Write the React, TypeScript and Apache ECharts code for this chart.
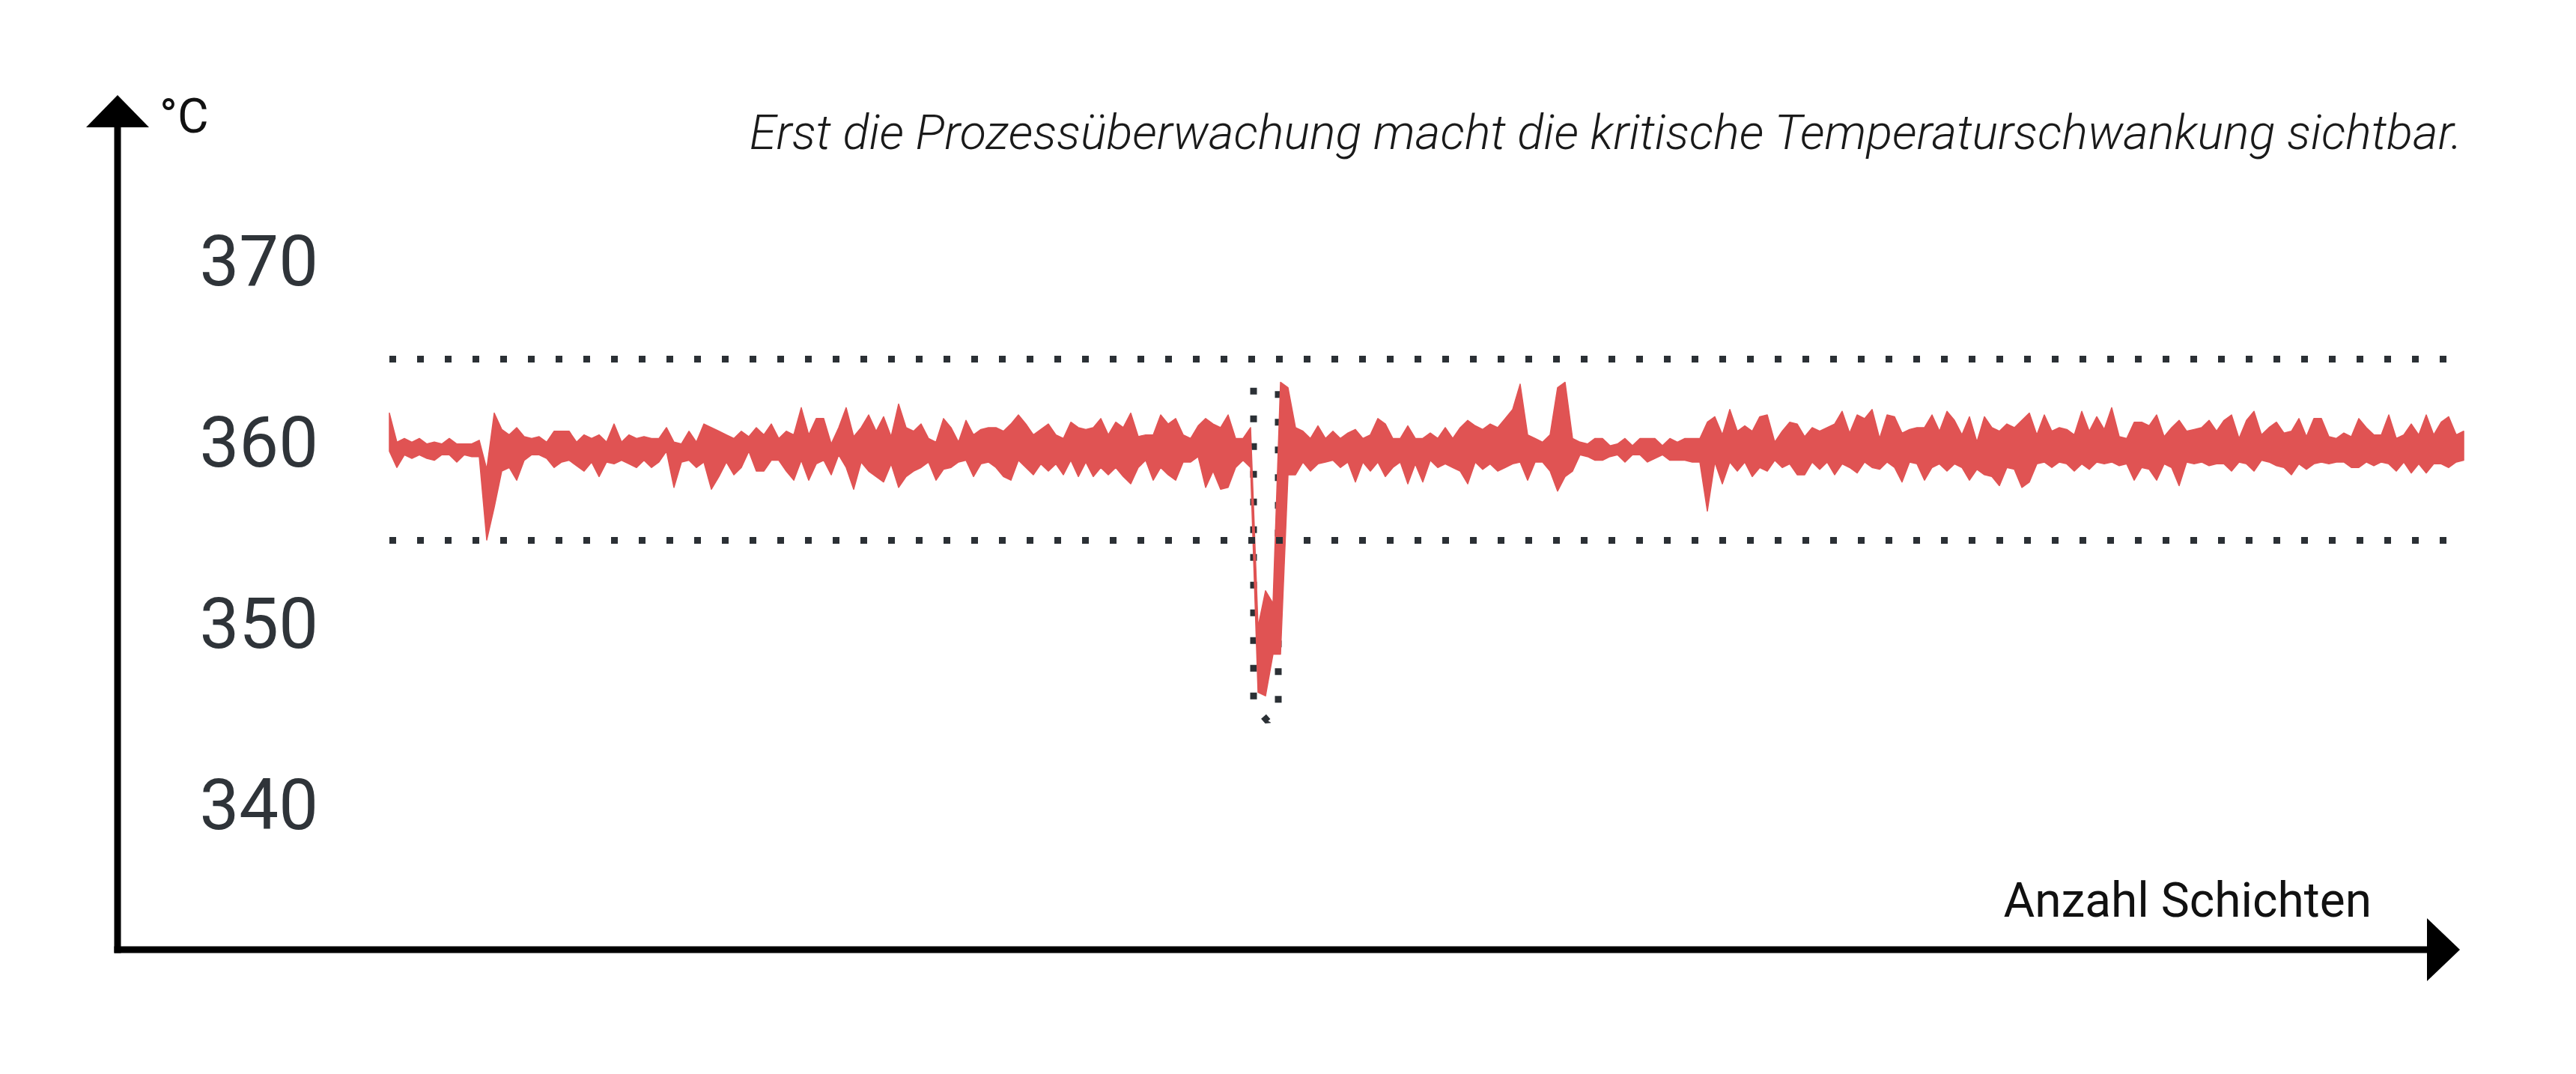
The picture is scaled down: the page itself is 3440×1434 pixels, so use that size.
import React, { useEffect, useRef } from "react";
import * as echarts from "echarts";

// Temperature band per layer (upper / lower envelope of the signal), °C
const upper: number[] = [
  362.0, 360.4, 360.6, 360.4, 360.6, 360.3, 360.4, 360.3, 360.6, 360.3,
  360.3, 360.3, 360.5, 358.9, 362.0, 361.1, 360.8, 361.2, 360.7, 360.6,
  360.7, 360.4, 361.0, 361.0, 361.0, 360.4, 360.8, 360.6, 360.8, 360.4,
  361.4, 360.4, 360.8, 360.6, 360.7, 360.6, 360.6, 361.2, 360.4, 360.3,
  361.0, 360.4, 361.4, 361.2, 361.0, 360.8, 360.6, 361.0, 360.7, 361.2,
  360.8, 361.4, 360.6, 361.0, 360.8, 362.3, 360.8, 361.7, 361.7, 360.3,
  361.2, 362.3, 360.7, 361.2, 361.9, 361.0, 361.8, 360.7, 362.5, 361.2,
  361.0, 361.4, 360.6, 360.4, 361.7, 361.2, 360.4, 361.6, 360.8, 361.1,
  361.2, 361.2, 361.0, 361.4, 361.9, 361.4, 360.8, 361.1, 361.4, 360.8,
  360.6, 361.5, 361.2, 361.1, 361.2, 361.7, 360.8, 361.5, 361.2, 362.0,
  360.7, 360.8, 360.8, 361.9, 361.4, 361.7, 360.8, 360.6, 361.3, 361.7,
  361.4, 361.2, 361.9, 360.6, 360.6, 361.2, 350.2, 352.2, 351.5, 363.7,
  363.4, 361.2, 361.0, 360.6, 361.3, 360.6, 361.0, 360.6, 360.9, 361.1,
  360.6, 360.8, 361.7, 361.4, 360.6, 360.6, 361.3, 360.6, 360.6, 360.9,
  360.6, 361.2, 360.6, 361.2, 361.6, 361.3, 361.1, 361.4, 361.2, 361.7,
  362.2, 363.6, 360.8, 360.6, 360.4, 360.8, 363.4, 363.7, 360.6, 360.4,
  360.3, 360.6, 360.6, 360.2, 360.3, 360.6, 360.2, 360.6, 360.6, 360.6,
  360.2, 360.6, 360.4, 360.6, 360.6, 360.6, 361.5, 361.8, 360.8, 362.2,
  361.0, 361.3, 361.0, 361.8, 361.9, 360.4, 361.0, 361.5, 361.4, 360.7,
  361.2, 361.0, 361.2, 361.4, 362.1, 360.9, 361.9, 361.7, 362.2, 360.6,
  361.9, 361.8, 360.9, 361.1, 361.2, 361.2, 361.9, 361.0, 362.1, 361.6,
  360.8, 361.8, 360.4, 361.8, 361.2, 361.0, 361.4, 361.2, 361.6, 362.0,
  360.8, 361.9, 361.0, 361.2, 361.1, 360.8, 362.1, 361.0, 361.8, 361.1,
  362.3, 360.7, 360.6, 361.5, 361.5, 361.3, 361.9, 360.7, 361.2, 361.6,
  361.0, 361.1, 361.2, 361.6, 361.0, 361.6, 361.9, 360.6, 361.6, 362.1,
  360.8, 361.2, 361.5, 360.9, 361.0, 361.7, 360.7, 361.7, 361.7, 360.7,
  360.6, 360.9, 360.7, 361.7, 361.2, 360.8, 360.8, 361.9, 360.6, 360.8,
  361.4, 360.8, 361.9, 360.8, 361.5, 361.8, 360.8, 361.0,
];

const lower: number[] = [
  359.9, 359.0, 359.7, 359.5, 359.7, 359.5, 359.4, 359.7, 359.7, 359.3,
  359.7, 359.6, 359.6, 355.0, 356.8, 358.8, 359.0, 358.3, 359.4, 359.7,
  359.7, 359.5, 359.0, 359.3, 359.4, 359.1, 358.8, 359.3, 358.5, 359.3,
  359.2, 359.4, 359.2, 359.0, 359.4, 359.0, 359.3, 359.9, 357.9, 359.3,
  359.4, 359.0, 359.3, 357.8, 358.5, 359.3, 358.6, 359.0, 359.9, 358.8,
  358.8, 359.4, 359.4, 358.8, 358.3, 359.4, 358.3, 359.2, 359.4, 358.6,
  359.7, 359.0, 357.8, 359.3, 358.8, 358.5, 358.2, 359.2, 357.9, 358.5,
  358.8, 359.0, 359.3, 358.3, 358.9, 359.0, 359.3, 359.4, 358.5, 359.2,
  359.3, 359.0, 358.5, 358.3, 359.4, 359.0, 358.6, 359.2, 358.8, 359.2,
  358.6, 359.4, 358.5, 359.3, 358.5, 359.0, 358.6, 359.0, 358.5, 358.1,
  359.0, 359.4, 358.3, 359.0, 358.6, 358.3, 359.3, 359.3, 359.6, 357.9,
  358.8, 357.8, 357.9, 359.0, 359.4, 359.0, 346.6, 346.4, 348.7, 348.7,
  358.6, 358.6, 359.3, 358.8, 359.2, 359.3, 359.4, 359.0, 359.3, 358.2,
  359.3, 358.8, 359.3, 358.5, 359.0, 359.3, 358.1, 359.2, 358.2, 359.4,
  359.0, 359.2, 359.0, 358.8, 358.1, 359.3, 358.9, 359.2, 358.8, 359.0,
  359.2, 359.3, 358.3, 359.3, 359.3, 358.8, 357.7, 358.5, 358.8, 359.7,
  359.6, 359.4, 359.4, 359.6, 359.7, 359.3, 359.7, 359.7, 359.3, 359.5,
  359.7, 359.4, 359.4, 359.4, 359.3, 359.3, 356.6, 359.3, 358.1, 359.3,
  358.8, 359.3, 358.5, 359.0, 358.8, 359.4, 359.0, 359.2, 358.6, 358.6,
  359.3, 358.9, 359.3, 358.6, 359.2, 359.0, 358.7, 359.3, 359.0, 358.9,
  359.3, 359.0, 358.2, 359.3, 359.2, 358.3, 359.0, 359.2, 358.8, 359.2,
  359.0, 358.3, 358.9, 358.6, 358.5, 358.0, 359.0, 358.9, 357.9, 358.2,
  359.2, 359.3, 359.0, 359.3, 359.2, 358.8, 359.2, 358.9, 359.3, 359.2,
  359.3, 359.1, 359.2, 358.3, 359.0, 358.9, 358.3, 359.2, 359.0, 358.0,
  359.3, 359.2, 359.3, 359.1, 359.2, 359.2, 358.8, 359.3, 359.2, 358.8,
  359.4, 359.3, 359.1, 359.0, 358.6, 359.2, 358.9, 359.2, 359.3, 359.2,
  359.3, 359.3, 359.0, 359.0, 359.3, 359.1, 359.3, 359.2, 358.8, 359.3,
  358.7, 359.2, 358.7, 359.2, 359.2, 359.0, 359.3, 359.4,
];

// Tolerance limits (°C)
const limits: number[] = [365, 355];

// Dotted highlight around the temperature drop (layer index, °C)
const boxX: number[] = [115.4, 115.4, 117.3, 118.7, 118.7];
const boxY: number[] = [363.4, 345.9, 345.0, 346.0, 363.7];

// Y axis
const yTicks: number[] = [340, 350, 360, 370];
const yMin = 330;
const yMax = 380;

const title = "Erst die Prozessüberwachung macht die kritische Temperaturschwankung sichtbar.";
const yUnit = "°C";
const xName = "Anzahl Schichten";

const RED = "#e05353";
const DOT = "#2b3035";

export default function App() {
  const ref = useRef<HTMLDivElement>(null);

  useEffect(() => {
    if (!ref.current) return;
    const chart = echarts.init(ref.current, null, { renderer: "svg" });

    const bandData = upper.map((u, i) => [i, u, lower[i]]);
    const boxData = boxX.map((x, i) => [x, boxY[i]]);

    chart.setOption({
      animation: false,
      backgroundColor: "#ffffff",
      grid: { left: 520, right: 150, top: 116, bottom: 108, containLabel: false },
      xAxis: {
        type: "value",
        min: 0,
        max: upper.length - 1,
        show: false,
      },
      yAxis: {
        type: "value",
        min: yMin,
        max: yMax,
        interval: 10,
        axisLine: { show: false },
        axisTick: { show: false },
        splitLine: { show: false },
        axisLabel: {
          show: true,
          showMinLabel: false,
          showMaxLabel: false,
          fontSize: 94,
          fontFamily: "Roboto",
          color: "#2f3439",
          margin: 95,
          verticalAlign: "bottom",
          lineHeight: 18,
          formatter: (v: number) => (yTicks.includes(v) ? String(v) : ""),
        },
      },
      series: [
        {
          name: "box",
          type: "line",
          data: boxData,
          symbol: "none",
          silent: true,
          z: 1,
          lineStyle: { color: DOT, width: 9, type: [9, 28] },
          markLine: {
            silent: true,
            symbol: ["none", "none"],
            label: { show: false },
            lineStyle: { color: DOT, width: 9, type: [9, 28] },
            data: limits.map((v) => ({ yAxis: v })),
          },
        },
        {
          name: "Temperatur",
          type: "custom",
          data: bandData,
          encode: { x: 0, y: [1, 2] },
          silent: true,
          z: 3,
          renderItem: (params: any, api: any) => {
            if (params.dataIndex !== 0) return null;
            const pts: number[][] = [];
            for (let i = 0; i < upper.length; i++) pts.push(api.coord([i, upper[i]]));
            for (let i = lower.length - 1; i >= 0; i--) pts.push(api.coord([i, lower[i]]));
            return {
              type: "polygon",
              shape: { points: pts },
              style: { fill: RED, stroke: RED, lineWidth: 1.5, lineJoin: "round" },
            };
          },
        },
      ],
      graphic: [
        // y axis line + arrow
        { type: "rect", shape: { x: 152.5, y: 165, width: 9, height: 1107.5 }, style: { fill: "#000" }, z: 10 },
        { type: "polygon", shape: { points: [[115, 170], [157, 127], [199, 170]] }, style: { fill: "#000" }, z: 10 },
        // x axis line + arrow
        { type: "rect", shape: { x: 152.5, y: 1263.5, width: 3092, height: 9 }, style: { fill: "#000" }, z: 10 },
        { type: "polygon", shape: { points: [[3241, 1226], [3285, 1268], [3241, 1310]] }, style: { fill: "#000" }, z: 10 },
        {
          type: "text",
          z: 10,
          style: {
            text: yUnit,
            x: 213,
            y: 155,
            fontSize: 64,
            fontFamily: "Roboto",
            fill: "#111",
            align: "left",
            verticalAlign: "middle",
          },
        },
        {
          type: "text",
          z: 10,
          style: {
            text: title,
            x: 3288,
            y: 177,
            fontSize: 64.8,
            fontFamily: "Roboto",
            fontStyle: "italic",
            fontWeight: 300,
            fill: "#1a1a1a",
            align: "right",
            verticalAlign: "middle",
          },
        },
        {
          type: "text",
          z: 10,
          style: {
            text: xName,
            x: 3167,
            y: 1202,
            fontSize: 64,
            fontFamily: "Roboto",
            fill: "#111",
            align: "right",
            verticalAlign: "middle",
          },
        },
      ],
    });

    return () => chart.dispose();
  }, []);

  return (
    <div
      ref={ref}
      style={{ position: "fixed", left: 0, top: 0, width: "3440px", height: "1434px", background: "#fff" }}
    />
  );
}
